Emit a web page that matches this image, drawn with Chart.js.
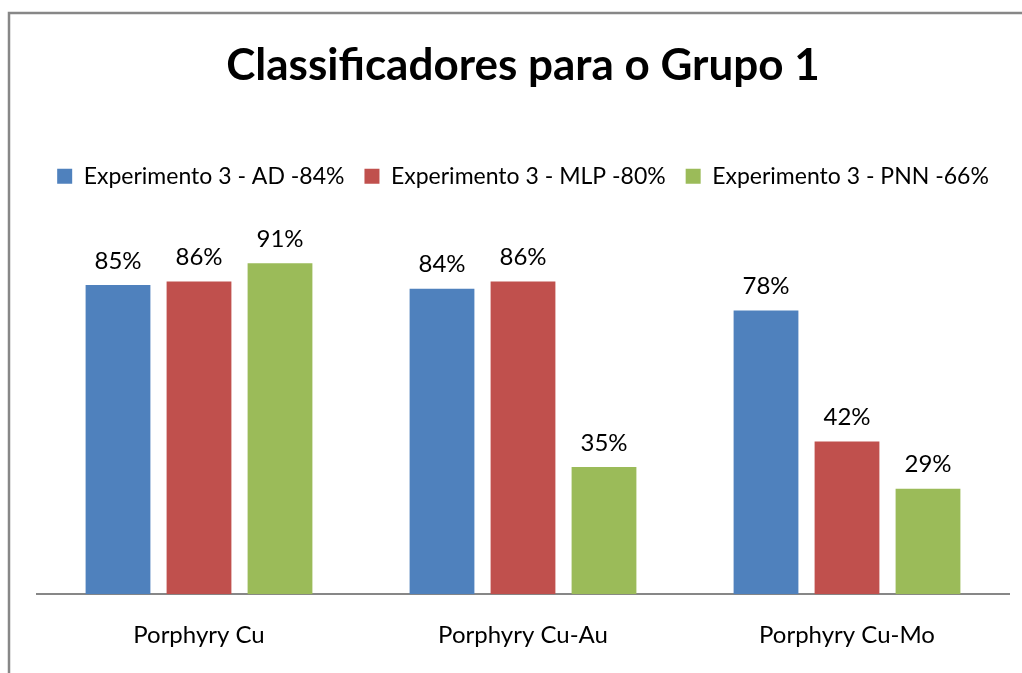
<!DOCTYPE html>
<html>
<head>
<meta charset="utf-8">
<script src="https://cdn.jsdelivr.net/npm/chart.js@4"></script>
<style>
  html, body { margin: 0; padding: 0; background: #fff; }
  #wrap { width: 1022px; height: 673px; }
</style>
</head>
<body>
<div id="wrap"><canvas id="grafico"></canvas></div>
<script>
// Dados do gráfico
const categorias = ['Porphyry Cu', 'Porphyry Cu-Au', 'Porphyry Cu-Mo'];
const nomesSeries = ['Experimento 3 - AD -84%', 'Experimento 3 - MLP -80%', 'Experimento 3 - PNN -66%'];
const valoresAD = [85, 84, 78];
const valoresMLP = [86, 86, 42];
const valoresPNN = [91, 35, 29];
const coresSeries = ['#4F81BD', '#C0504D', '#9BBB59'];

const fonte = 'Lato, "Open Sans", sans-serif';

// moldura cinza do gráfico + fundo branco
const moldura = {
    id: 'moldura',
    beforeDraw(chart) {
        const c = chart.ctx;
        c.save();
        c.fillStyle = '#fff';
        c.fillRect(0, 0, chart.width, chart.height);
        c.strokeStyle = '#878787';
        c.lineWidth = 2.5;
        c.beginPath();
        c.moveTo(9, chart.height + 5);
        c.lineTo(9, 13);
        c.lineTo(chart.width + 5, 13);
        c.stroke();
        c.restore();
    }
};

// rótulos de percentagem acima das barras
const rotulos = {
    id: 'rotulos',
    afterDatasetsDraw(chart) {
        const c = chart.ctx;
        c.save();
        c.font = '24px ' + fonte;
        c.fillStyle = '#000';
        c.textAlign = 'center';
        c.textBaseline = 'bottom';
        chart.data.datasets.forEach((ds, i) => {
            chart.getDatasetMeta(i).data.forEach((bar, j) => {
                c.fillText(ds.data[j] + '%', bar.x, bar.y - 12);
            });
        });
        c.restore();
    }
};

new Chart(document.getElementById('grafico'), {
    type: 'bar',
    data: {
        labels: categorias,
        datasets: [valoresAD, valoresMLP, valoresPNN].map((v, i) => ({
            label: nomesSeries[i],
            data: v,
            backgroundColor: coresSeries[i],
            categoryPercentage: 0.75,
            barPercentage: 0.8
        }))
    },
    options: {
        responsive: true,
        maintainAspectRatio: false,
        animation: false,
        layout: { padding: { left: 37, right: 13, top: 0, bottom: 4 } },
        plugins: {
            title: {
                display: true,
                text: 'Classificadores para o Grupo 1',
                color: '#000',
                font: { family: fonte, size: 44, weight: 'bold', lineHeight: 1.2 },
                padding: { top: 39, bottom: 53 }
            },
            legend: {
                position: 'top',
                labels: {
                    color: '#000',
                    font: { family: fonte, size: 23 },
                    boxWidth: 15,
                    boxHeight: 15,
                    padding: 20
                }
            },
            tooltip: { enabled: false }
        },
        scales: {
            x: {
                grid: { display: false },
                border: { display: true, color: '#878787', width: 2 },
                ticks: { color: '#000', font: { family: fonte, size: 24 }, padding: 19 }
            },
            y: { display: false, min: 0, max: 109 }
        }
    },
    plugins: [moldura, rotulos]
});
</script>
</body>
</html>
